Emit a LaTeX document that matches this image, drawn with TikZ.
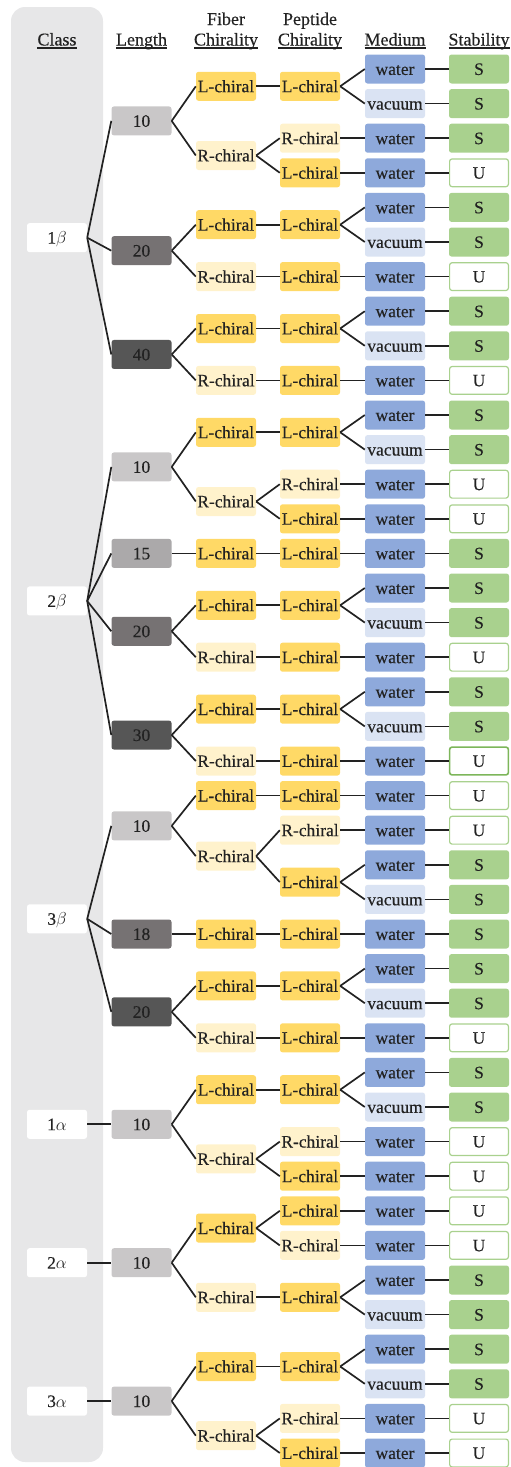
\documentclass[tikz,border=0pt]{standalone}
\usepackage{fontspec}
\setmainfont{Liberation Serif}[FakeBold=0.3]

\definecolor{panel}{HTML}{E7E7E8}
\definecolor{lenA}{HTML}{C9C7C8}
\definecolor{lenB}{HTML}{ABA9AA}
\definecolor{lenC}{HTML}{767273}
\definecolor{lenD}{HTML}{565656}
\definecolor{lchi}{HTML}{FFD966}
\definecolor{rchi}{HTML}{FFF2CC}
\definecolor{wat}{HTML}{8EA9DB}
\definecolor{vac}{HTML}{DAE3F3}
\definecolor{stab}{HTML}{A9D18E}
\definecolor{stabdark}{HTML}{7DB65A}
\definecolor{ink}{HTML}{222222}

% vertical position of table row #1
\newcommand\Y[1]{69+34.6*(#1-1)}
% header underline at a fixed depth below the baseline
\newcommand\hul[1]{\setbox0\hbox{#1}\rlap{\vrule height -1.6pt depth 3.1pt width \wd0}\box0}

\tikzset{
  box/.style={rounded corners=2.5pt, minimum width=60pt, minimum height=29pt,
    inner sep=0pt, text height=11.8pt, text depth=0pt,
    font=\fontsize{17.5}{21}\selectfont, text=ink},
  chiL/.style={box, fill=lchi},
  chiR/.style={box, fill=rchi},
  wt/.style={box, fill=wat},
  vc/.style={box, fill=vac},
  sS/.style={box, fill=stab},
  sU/.style={box, fill=white, draw=stab, line width=1.2pt, minimum width=58.8pt, minimum height=27.8pt},
  sUd/.style={sU, draw=stabdark, line width=1.6pt},
  cls/.style={box, fill=white},
  hdr/.style={font=\fontsize{18}{21}\selectfont, text=ink, inner sep=0pt, anchor=base},
  link/.style={line width=1.7pt, draw=ink},
}

\begin{document}
\begin{tikzpicture}[x=1pt, y=-1pt]
\useasboundingbox (0,0) rectangle (511,1467);

% class column panel
\fill[panel, rounded corners=14pt] (11,7) rectangle (103,1462);

% column headings
\node[hdr] (hClass) at (57,45.5) {\hul{Class}};
\node[hdr] (hLen) at (141.5,45.5) {\hul{Length}};
\node[hdr] (hFib1) at (226,25) {Fiber};
\node[hdr] (hFib2) at (226,45.5) {\hul{Chirality}};
\node[hdr] (hPep1) at (310,25) {Peptide};
\node[hdr] (hPep2) at (310,45.5) {\hul{Chirality}};
\node[hdr] (hMed) at (395,45.5) {\hul{Medium}};
\node[hdr] (hStab) at (479,45.5) {\hul{Stability}};

% medium and stability
\foreach \r/\ms/\mt/\ss/\st in {
  1/wt/water/sS/S, 2/vc/vacuum/sS/S, 3/wt/water/sS/S, 4/wt/water/sU/U,
  5/wt/water/sS/S, 6/vc/vacuum/sS/S, 7/wt/water/sU/U, 8/wt/water/sS/S,
  9/vc/vacuum/sS/S, 10/wt/water/sU/U, 11/wt/water/sS/S, 12/vc/vacuum/sS/S,
  13/wt/water/sU/U, 14/wt/water/sU/U, 15/wt/water/sS/S, 16/wt/water/sS/S,
  17/vc/vacuum/sS/S, 18/wt/water/sU/U, 19/wt/water/sS/S, 20/vc/vacuum/sS/S,
  21/wt/water/sUd/U, 22/wt/water/sU/U, 23/wt/water/sU/U, 24/wt/water/sS/S,
  25/vc/vacuum/sS/S, 26/wt/water/sS/S, 27/wt/water/sS/S, 28/vc/vacuum/sS/S,
  29/wt/water/sU/U, 30/wt/water/sS/S, 31/vc/vacuum/sS/S, 32/wt/water/sU/U,
  33/wt/water/sU/U, 34/wt/water/sU/U, 35/wt/water/sU/U, 36/wt/water/sS/S,
  37/vc/vacuum/sS/S, 38/wt/water/sS/S, 39/vc/vacuum/sS/S, 40/wt/water/sU/U,
  41/wt/water/sU/U}{
  \node[\ms] (m\r) at (395,{\Y{\r}}) {\mt};
  \node[\ss] (s\r) at (479,{\Y{\r}}) {\st};
  \draw[link] (m\r.east) -- (s\r.west);
}

% peptide chirality
\foreach \n/\r/\h/\kids in {
  1/1.5/L/{1,2}, 2/3/R/{3}, 3/4/L/{4}, 4/5.5/L/{5,6}, 5/7/L/{7},
  6/8.5/L/{8,9}, 7/10/L/{10}, 8/11.5/L/{11,12}, 9/13/R/{13}, 10/14/L/{14},
  11/15/L/{15}, 12/16.5/L/{16,17}, 13/18/L/{18}, 14/19.5/L/{19,20},
  15/21/L/{21}, 16/22/L/{22}, 17/23/R/{23}, 18/24.5/L/{24,25}, 19/26/L/{26},
  20/27.5/L/{27,28}, 21/29/L/{29}, 22/30.5/L/{30,31}, 23/32/R/{32},
  24/33/L/{33}, 25/34/L/{34}, 26/35/R/{35}, 27/36.5/L/{36,37},
  28/38.5/L/{38,39}, 29/40/R/{40}, 30/41/L/{41}}{
  \node[chi\h] (p\n) at (310,{\Y{\r}}) {\h-chiral};
  \foreach \k in \kids {\draw[link] (p\n.east) -- (m\k.west);}
}

% fiber chirality
\foreach \n/\r/\h/\kids in {
  1/1.5/L/{1}, 2/3.5/R/{2,3}, 3/5.5/L/{4}, 4/7/R/{5}, 5/8.5/L/{6},
  6/10/R/{7}, 7/11.5/L/{8}, 8/13.5/R/{9,10}, 9/15/L/{11}, 10/16.5/L/{12},
  11/18/R/{13}, 12/19.5/L/{14}, 13/21/R/{15}, 14/22/L/{16},
  15/23.75/R/{17,18}, 16/26/L/{19}, 17/27.5/L/{20}, 18/29/R/{21},
  19/30.5/L/{22}, 20/32.5/R/{23,24}, 21/34.5/L/{25,26}, 22/36.5/R/{27},
  23/38.5/L/{28}, 24/40.5/R/{29,30}}{
  \node[chi\h] (f\n) at (226,{\Y{\r}}) {\h-chiral};
  \foreach \k in \kids {\draw[link] (f\n.east) -- (p\k.west);}
}

% length
\foreach \n/\r/\c/\t/\kids in {
  1/2.5/lenA/10/{1,2}, 2/6.25/lenC/20/{3,4}, 3/9.25/lenD/40/{5,6},
  4/12.5/lenA/10/{7,8}, 5/15/lenB/15/{9}, 6/17.25/lenC/20/{10,11},
  7/20.25/lenD/30/{12,13}, 8/22.875/lenA/10/{14,15}, 9/26/lenC/18/{16},
  10/28.25/lenD/20/{17,18}, 11/31.5/lenA/10/{19,20},
  12/35.5/lenA/10/{21,22}, 13/39.5/lenA/10/{23,24}}{
  \node[box, fill=\c] (l\n) at (141.5,{\Y{\r}}) {\t};
  \foreach \k in \kids {\draw[link] (l\n.east) -- (f\k.west);}
}

% class
\foreach \n/\r/\t/\kids in {
  1/5.875/1$\beta$/{1,2,3}, 2/16.375/2$\beta$/{4,5,6,7},
  3/25.5625/3$\beta$/{8,9,10}, 4/31.5/1$\alpha$/{11},
  5/35.5/2$\alpha$/{12}, 6/39.5/3$\alpha$/{13}}{
  \node[cls] (c\n) at (57,{\Y{\r}}) {\t};
  \foreach \k in \kids {\draw[link] (c\n.east) -- (l\k.west);}
}
\end{tikzpicture}
\end{document}
